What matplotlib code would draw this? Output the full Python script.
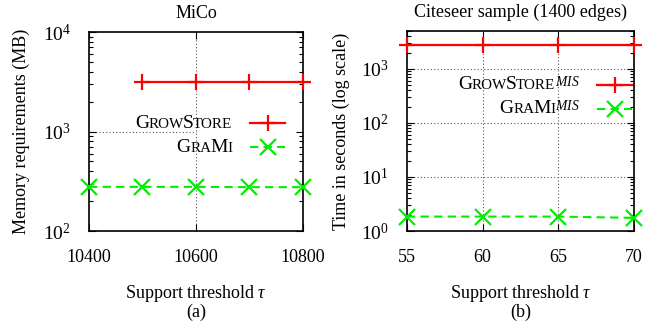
import matplotlib
matplotlib.use("Agg")
import matplotlib.pyplot as plt
from matplotlib.lines import Line2D
from matplotlib.offsetbox import TextArea, DrawingArea, HPacker, VPacker, AnchoredOffsetbox
from matplotlib.ticker import LogLocator, NullFormatter, FixedLocator

SERIF = "Liberation Serif"
plt.rcParams["font.family"] = SERIF
plt.rcParams["mathtext.fontset"] = "custom"
plt.rcParams["mathtext.rm"] = SERIF
plt.rcParams["mathtext.it"] = SERIF + ":italic"
plt.rcParams["mathtext.bf"] = SERIF + ":bold"

FS = 13
RED = "#ff0000"
GREEN = "#00ee00"

# (a) MiCo memory
mico_tau_grow = [10500, 10600, 10700, 10800]
mico_grow_mb = [3150, 3150, 3150, 3150]
mico_tau_grami = [10400, 10500, 10600, 10700, 10800]
mico_grami_mb = [278, 278, 278, 276, 276]
mico_xticks = [10400, 10600, 10800]

# (b) Citeseer sample time
cite_tau = [55, 60, 65, 70]
cite_grow_s = [2780, 2780, 2780, 2780]
cite_grami_s = [1.85, 1.85, 1.85, 1.75]
cite_xticks = [55, 60, 65, 70]

grow_style = dict(color=RED, lw=1.6, marker="+", ms=12, mew=1.6)
grami_style = dict(color=GREEN, lw=1.5, ls=(0, (4, 2.5)), marker="x", ms=11, mew=1.6)
grid_style = dict(color="0.35", lw=0.8, ls=(0, (1, 2)))

fig = plt.figure(figsize=(6.62, 3.24), dpi=100)
ax1 = fig.add_axes([0.1344, 0.287, 0.3233, 0.614])
ax2 = fig.add_axes([0.6148, 0.287, 0.3429, 0.617])


def smallcaps(pieces, sup=None):
    # fake small caps: capitals at full size, the rest a bit smaller
    boxes = []
    for txt, big in pieces:
        boxes.append(TextArea(txt, textprops=dict(fontsize=14 if big else 14 * 0.78)))
    if sup:
        boxes.append(TextArea(sup, textprops=dict(fontsize=14)))
    return HPacker(children=boxes, align="baseline", pad=0, sep=-0.5)


def key(style):
    da = DrawingArea(25, 10, 0, 0)
    st = {k: v for k, v in style.items() if k not in ("marker", "ms", "mew")}
    da.add_artist(Line2D([0, 25], [5, 5], **st))
    da.add_artist(Line2D([12.5], [5], ls="none", color=style["color"],
                         marker=style["marker"], ms=style["ms"], mew=style["mew"]))
    return da


def add_legend(ax, entries, anchor):
    rows = [HPacker(children=[lab, key(st)], align="center", pad=0, sep=13)
            for lab, st in entries]
    box = VPacker(children=rows, align="right", pad=0, sep=5)
    ab = AnchoredOffsetbox(loc="upper right", child=box, pad=0, borderpad=0,
                           frameon=False, bbox_to_anchor=anchor,
                           bbox_transform=ax.transAxes)
    ax.add_artist(ab)


def style_axes(ax):
    ax.set_yscale("log")
    ax.tick_params(which="both", direction="in", top=True, right=True, labelsize=FS)
    ax.tick_params(which="major", length=5, width=0.8)
    ax.tick_params(which="minor", length=3, width=0.8)
    ax.tick_params(axis="x", which="minor", bottom=False, top=False)
    ax.tick_params(axis="x", pad=13)
    ax.tick_params(axis="y", which="major", pad=13, labelsize=14)
    ax.yaxis.set_minor_locator(LogLocator(base=10, subs=range(2, 10)))
    ax.yaxis.set_minor_formatter(NullFormatter())
    for s in ax.spines.values():
        s.set_linewidth(1.2)


# --- (a)
style_axes(ax1)
ax1.set_xlim(10400, 10800)
ax1.set_ylim(100, 10000)
ax1.xaxis.set_major_locator(FixedLocator(mico_xticks))
ax1.axvline(10600, zorder=0, **grid_style)
ax1.axhline(1000, xmin=0, xmax=0.5, zorder=0, **grid_style)
ax1.plot(mico_tau_grow, mico_grow_mb, clip_on=False, zorder=3, **grow_style)
ax1.plot(mico_tau_grami, mico_grami_mb, clip_on=False, zorder=3, **grami_style)
ax1.set_title("MiCo", fontsize=FS, pad=10)
ax1.set_ylabel("Memory requirements (MB)", fontsize=FS, labelpad=9)
ax1.set_xlabel("Support threshold $\\tau$\n(a)", fontsize=FS, labelpad=12, linespacing=1.0)
add_legend(ax1, [
    (smallcaps([("G", 1), ("ROW", 0), ("S", 1), ("TORE", 0)]), grow_style),
    (smallcaps([("G", 1), ("RA", 0), ("M", 1), ("I", 0)]), grami_style),
], (0.916, 0.585))

# --- (b)
style_axes(ax2)
ax2.set_xlim(55, 70)
ax2.set_ylim(1, 5000)
ax2.xaxis.set_major_locator(FixedLocator(cite_xticks))
for x in cite_xticks[1:-1]:
    ax2.axvline(x, zorder=0, **grid_style)
for y in [10, 100, 1000]:
    ax2.axhline(y, zorder=0, **grid_style)
ax2.plot(cite_tau, cite_grow_s, clip_on=False, zorder=3, **grow_style)
ax2.plot(cite_tau, cite_grami_s, clip_on=False, zorder=3, **grami_style)
ax2.set_title("Citeseer sample (1400 edges)", fontsize=FS, pad=10)
ax2.set_ylabel("Time in seconds (log scale)", fontsize=FS, labelpad=8)
ax2.set_xlabel("Support threshold $\\tau$\n(b)", fontsize=FS, labelpad=12, linespacing=1.0)
add_legend(ax2, [
    (smallcaps([("G", 1), ("ROW", 0), ("S", 1), ("TORE", 0)], sup="$^{MIS}$"), grow_style),
    (smallcaps([("G", 1), ("RA", 0), ("M", 1), ("I", 0)], sup="$^{MIS}$"), grami_style),
], (0.991, 0.775))

fig.savefig("out.png", dpi=100)
